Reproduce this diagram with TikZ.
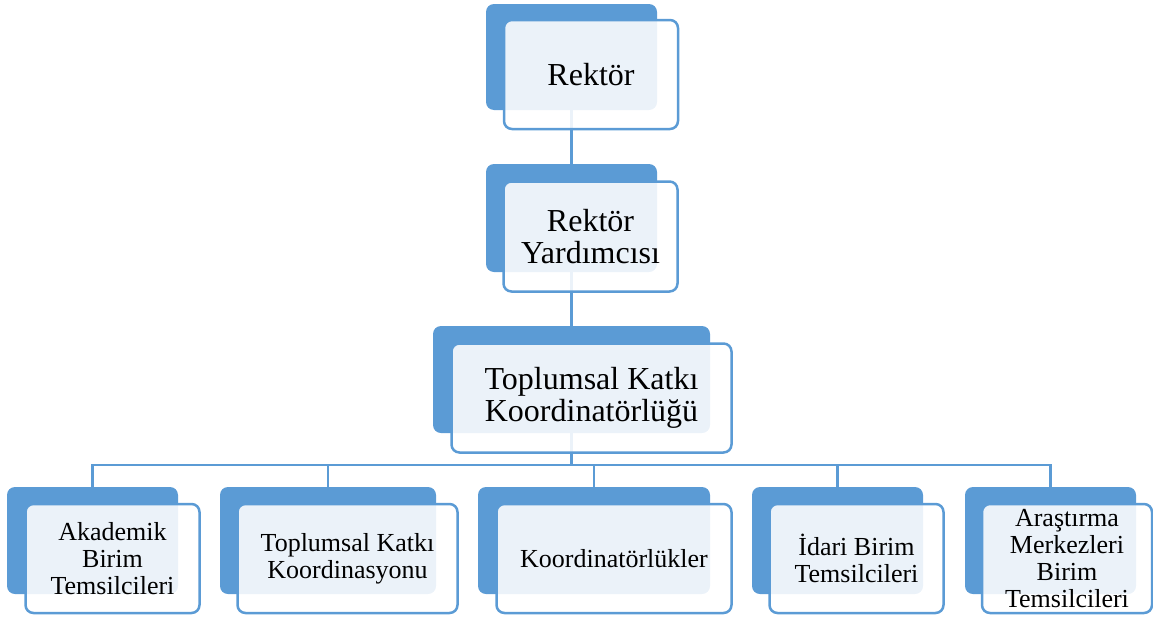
\documentclass[tikz,border=0pt]{standalone}
\usepackage{fontspec}
\setmainfont{Liberation Serif}
\usepackage{xcolor}
\usepackage{tikz}

\definecolor{unitblue}{HTML}{5B9BD5}

\tikzset{
  backbox/.style={rectangle, rounded corners=8pt, fill=unitblue, inner sep=0pt},
  frontbox/.style={rectangle, rounded corners=8pt, draw=unitblue, line width=2.5pt,
    fill=white, fill opacity=0.88, text opacity=1, inner sep=0pt, align=center},
  bigtext/.style={font=\fontsize{32}{32}\selectfont},
  smalltext/.style={font=\fontsize{26}{27}\selectfont},
  link/.style={draw=unitblue, line width=2.5pt}
}

\begin{document}
\begin{tikzpicture}[x=1pt,y=-1pt]
  \useasboundingbox (0,0) rectangle (1153,621);

  % back boxes of the upper levels
  \node[backbox, minimum width=171pt, minimum height=106pt] (rek-b) at (571.5,57) {};
  \node[backbox, minimum width=171pt, minimum height=108pt] (yrd-b) at (571.5,218) {};
  \node[backbox, minimum width=277pt, minimum height=107pt] (tkk-b) at (571.5,379.5) {};

  % back boxes of the lower row
  \foreach \nm/\cx/\w in {akd/92.5/171, tkd/328/216, krd/594/232, idr/837.5/171, arm/1050.5/171}
  {
      \node[backbox, minimum width=\w pt, minimum height=107pt] (\nm-b) at (\cx,540.5) {};
  }

  % connectors
  \draw[link] (rek-b.south) -- (yrd-b.north);
  \draw[link] (yrd-b.south) -- (tkk-b.north);
  \coordinate (bus) at (571.5,465);
  \draw[link] (tkk-b.south) -- (bus);
  \foreach \nm in {akd, tkd, krd, idr, arm}
      \draw[link] (bus) -| (\nm-b.north);

  % front boxes with the texts
  \node[frontbox, bigtext, minimum width=174pt, minimum height=109pt] (rek) at (591,74.5) {Rektör};
  \node[frontbox, bigtext, minimum width=174pt, minimum height=110pt] (yrd) at (590.5,236.5) {Rektör\\Yardımcısı};
  \node[frontbox, bigtext, minimum width=280pt, minimum height=109pt] (tkk) at (591.5,398) {Toplumsal Katkı\\Koordinatörlüğü};

  \foreach \nm/\cx/\w/\txt in {akd/112.5/174/{Akademik\\Birim\\Temsilcileri},
                               tkd/347.5/220/{Toplumsal Katkı\\Koordinasyonu},
                               krd/614/235/{Koordinatörlükler},
                               idr/856.5/174/{İdari Birim\\Temsilcileri},
                               arm/1067/170/{Araştırma\\Merkezleri\\Birim\\Temsilcileri}}
  {
      \node[frontbox, smalltext, minimum width=\w pt, minimum height=109pt] (\nm) at (\cx,558.5) {\txt};
  }
\end{tikzpicture}
\end{document}
